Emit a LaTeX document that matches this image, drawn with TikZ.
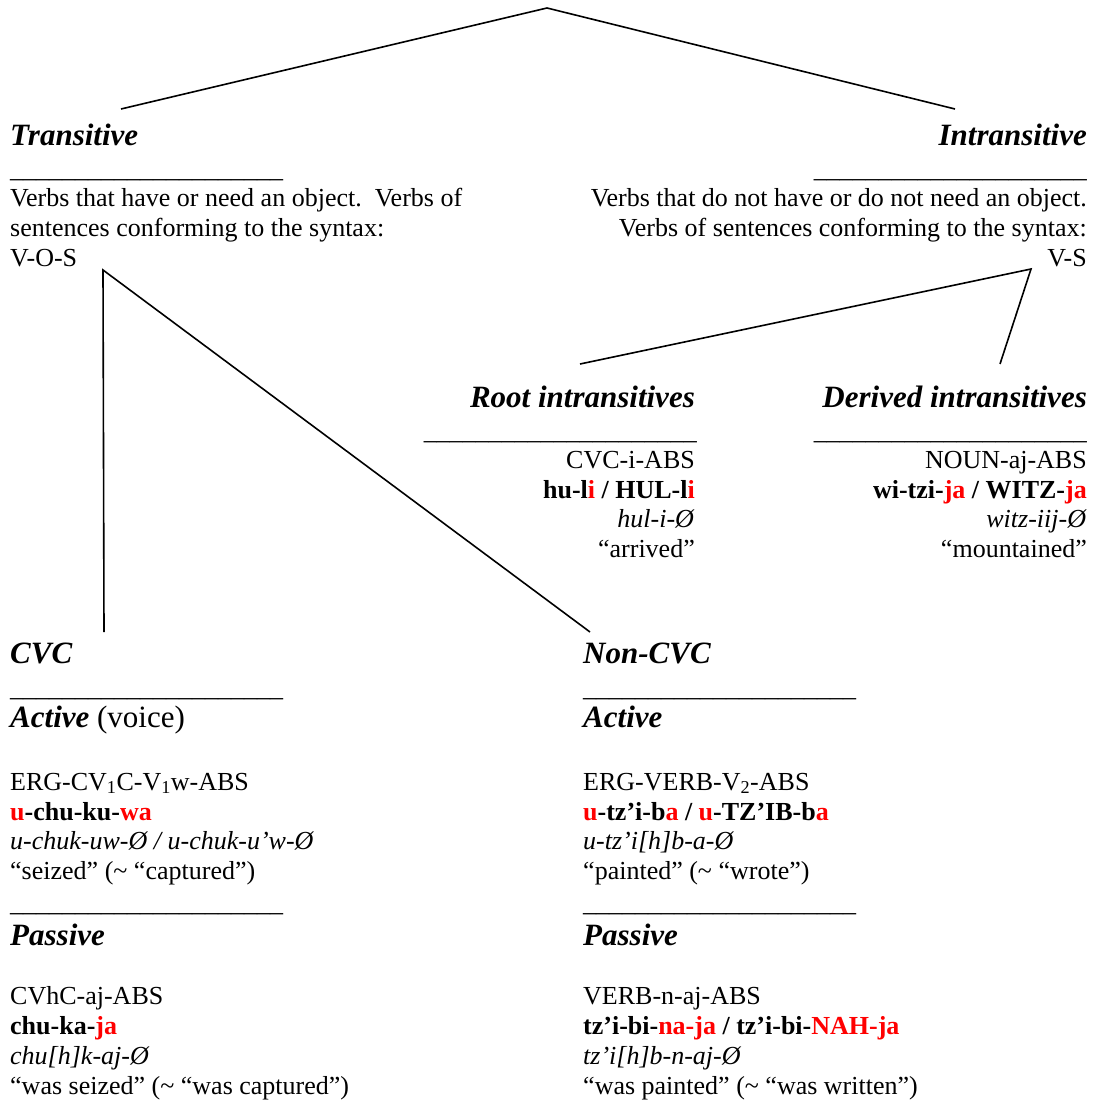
\documentclass[tikz,border=0pt]{standalone}
\usepackage{fontspec}
\setmainfont{Liberation Serif}
\newcommand\bodyfnt{\fontsize{26}{30}\selectfont}
\newcommand\headfnt{\fontsize{31}{36}\selectfont\bfseries\itshape}
\newcommand\rd[1]{\textcolor{red}{#1}}
\newcommand\unds{\_\_\_\_\_\_\_\_\_\_\_\_\_\_\_\_\_\_\_\_\_}
\begin{document}
\begin{tikzpicture}[x=1pt,y=-1pt,
  tl/.style={anchor=base west,inner sep=0pt,font=\bodyfnt},
  tr/.style={anchor=base east,inner sep=0pt,font=\bodyfnt},
  hl/.style={anchor=base west,inner sep=0pt,font=\headfnt},
  hr/.style={anchor=base east,inner sep=0pt,font=\headfnt},
  branch/.style={line width=1.6pt}]
\useasboundingbox (0,0) rectangle (1092,1102);

% ---------- top level ----------
\coordinate (root) at (547,8);
\coordinate (trTop) at (121,109);
\coordinate (inTop) at (955,109);
\draw[branch] (trTop) -- (root) -- (inTop);

\node[hl] (trans) at (10,146) {Transitive};
\node[tl] (transU) at (10,177.4) {\unds};
\node[tl] (transD1) at (10,206) {Verbs that have or need an object.\ \ Verbs of};
\node[tl] (transD2) at (10,236) {sentences conforming to the syntax:};
\node[tl] (transD3) at (10,266) {V-O-S};

\node[hr] (intr) at (1087,146) {Intransitive};
\node[tr] (intrU) at (1087,177.4) {\unds};
\node[tr] (intrD1) at (1087,206) {Verbs that do not have or do not need an object.};
\node[tr] (intrD2) at (1087,236) {Verbs of sentences conforming to the syntax:};
\node[tr] (intrD3) at (1087,266) {V-S};

% ---------- intransitive branches ----------
\coordinate (inApex) at (1031,269);
\coordinate (rootEnd) at (580,364);
\coordinate (derEnd) at (1000,364);
\draw[branch] (rootEnd) -- (inApex) -- (derEnd);

\node[hr] (rootH) at (695,407) {Root intransitives};
\node[tr] (rootU) at (697,439.4) {\unds};
\node[tr] (rootL1) at (695,468) {CVC-i-ABS};
\node[tr] (rootL2) at (695,498) {\textbf{hu-l\rd{i} / HUL-l\rd{i}}};
\node[tr] (rootL3) at (695,527) {\textit{hul-i-Ø}};
\node[tr] (rootL4) at (695,557) {“arrived”};

\node[hr] (derH) at (1087,407) {Derived intransitives};
\node[tr] (derU) at (1087,439.4) {\unds};
\node[tr] (derL1) at (1087,468) {NOUN-aj-ABS};
\node[tr] (derL2) at (1087,498) {\textbf{wi-tzi-\rd{ja} / WITZ-\rd{ja}}};
\node[tr] (derL3) at (1087,527) {\textit{witz-iij-Ø}};
\node[tr] (derL4) at (1087,557) {“mountained”};

% ---------- transitive branches ----------
\coordinate (trApex) at (103,270);
\coordinate (cvcEnd) at (104,632);
\coordinate (ncvcEnd) at (590,632);
\draw[branch] (cvcEnd) -- (trApex) -- (ncvcEnd);

% CVC column
\node[hl] (cvcH) at (10,663) {CVC};
\node[tl] (cvcU) at (10,696.4) {\unds};
\node[hl] (cvcA) at (10,727) {Active {\mdseries\upshape (voice)}};
\node[tl] (cvcA1) at (10,790) {ERG-CV\textsubscript{1}C-V\textsubscript{1}w-ABS};
\node[tl] (cvcA2) at (10,820) {\textbf{\rd{u}-chu-ku-\rd{wa}}};
\node[tl] (cvcA3) at (10,849) {\textit{u-chuk-uw-Ø / u-chuk-u’w-Ø}};
\node[tl] (cvcA4) at (10,879) {“seized” (\textasciitilde{} “captured”)};
\node[tl] (cvcU2) at (10,911.4) {\unds};
\node[hl] (cvcP) at (10,945) {Passive};
\node[tl] (cvcP1) at (10,1004) {CVhC-aj-ABS};
\node[tl] (cvcP2) at (10,1034) {\textbf{chu-ka-\rd{ja}}};
\node[tl] (cvcP3) at (10,1064) {\textit{chu[h]k-aj-Ø}};
\node[tl] (cvcP4) at (10,1094) {“was seized” (\textasciitilde{} “was captured”)};

% Non-CVC column
\node[hl] (ncH) at (583,663) {Non-CVC};
\node[tl] (ncU) at (583,696.4) {\unds};
\node[hl] (ncA) at (583,727) {Active};
\node[tl] (ncA1) at (583,790) {ERG-VERB-V\textsubscript{2}-ABS};
\node[tl] (ncA2) at (583,820) {\textbf{\rd{u}-tz’i-b\rd{a} / \rd{u}-TZ’IB-b\rd{a}}};
\node[tl] (ncA3) at (583,849) {\textit{u-tz’i[h]b-a-Ø}};
\node[tl] (ncA4) at (583,879) {“painted” (\textasciitilde{} “wrote”)};
\node[tl] (ncU2) at (583,911.4) {\unds};
\node[hl] (ncP) at (583,945) {Passive};
\node[tl] (ncP1) at (583,1004) {VERB-n-aj-ABS};
\node[tl] (ncP2) at (583,1034) {\textbf{tz’i-bi-\rd{na-ja} / tz’i-bi-\rd{NAH-ja}}};
\node[tl] (ncP3) at (583,1064) {\textit{tz’i[h]b-n-aj-Ø}};
\node[tl] (ncP4) at (583,1094) {“was painted” (\textasciitilde{} “was written”)};
\end{tikzpicture}
\end{document}
